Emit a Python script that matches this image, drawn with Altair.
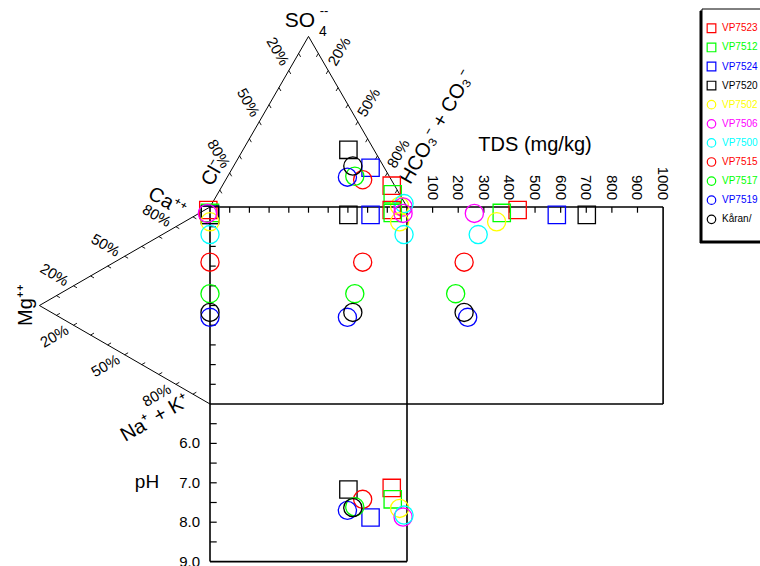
import altair as alt
import numpy as np
import pandas as pd

# ---- samples ---------------------------------------------------------------
samples = ["VP7523", "VP7512", "VP7524", "VP7520", "VP7502", "VP7506",
           "VP7500", "VP7515", "VP7517", "VP7519", "Kåran/"]
symbols = ["square"] * 4 + ["circle"] * 7
colors = ["#ff0000", "#00ff00", "#0000ff", "#000000", "#ffff00", "#ff00ff",
          "#00ffff", "#ff0000", "#00ff00", "#0000ff", "#000000"]

# cations, % of meq
ca = [98, 97, 96, 96, 92.5, 96, 86, 72, 56, 44, 46.5]
mg = [1, 0, 0, 0, 0, 1.5, 0, 0, 0, 0, 0]
na_k = [1, 3, 4, 4, 7.5, 2.5, 14, 28, 44, 56, 53.5]

# anions, % of meq
cl = [1.5, 3.5, 7, 13, 3.5, 2, 0.5, 14.5, 17.5, 21.5, 15.5]
so4 = [12.5, 7.5, 23, 33.5, 0.5, 0, 2, 16, 18, 17.5, 24]
hco3 = [86, 89, 70, 53.5, 96, 98, 97.5, 69.5, 64.5, 61, 60.5]

tds = [432, 370, 585, 702, 350, 263, 278, 223, 190, 237, 223]   # mg/kg
ph = [7.13, 7.42, 7.88, 7.17, 7.65, 7.87, 7.82, 7.42, 7.61, 7.70, 7.63]

tds_ticks = [100, 200, 300, 400, 500, 600, 700, 800, 900, 1000]
ph_labels = [6.0, 7.0, 8.0, 9.0]
pct_labels = [20, 50, 80]

# ---- Durov geometry (diagram units, y grows downward) ----------------------
S = 100.0                    # side of the central square
TRI = S * np.sqrt(3) / 2     # height of the ternary triangles
TDS_W = 130.0                # width of the TDS field (0-1000 mg/kg)
PH_U = 20.0                  # height of one pH unit, pH 5 at the square's base
PX = 1.97                    # pixels per diagram unit
X0, Y0 = 210.0, 207.0        # pixel position of the square's top-left corner
W, H = 760, 566

def ux(px):
    return (px - X0) / PX

def uy(py):
    return (py - Y0) / PX

xs = alt.Scale(domain=[ux(0), ux(W)], nice=False, zero=False)
ys = alt.Scale(domain=[uy(0), uy(H)], nice=False, zero=False, reverse=True)

def xy(x="x", y="y"):
    return dict(x=alt.X(f"{x}:Q", scale=xs, axis=None),
                y=alt.Y(f"{y}:Q", scale=ys, axis=None))

# ---- sample positions in the five fields -----------------------------------
ca_a, mg_a, nk_a = map(np.array, (ca, mg, na_k))
cl_a, so_a, hc_a = map(np.array, (cl, so4, hco3))
ct = ca_a + mg_a + nk_a
at = cl_a + so_a + hc_a
mg_f, nk_f = mg_a / ct, nk_a / ct
so_f, hc_f = so_a / at, hc_a / at

ax = S * (hc_f + so_f / 2)
ay = -TRI * so_f
cx = -TRI * mg_f
cy = S * (nk_f + mg_f / 2)
tx = S + TDS_W * np.array(tds) / 1000
py = S + PH_U * (np.array(ph) - 5)

MARK_SIZE = {"square": 300, "circle": 330}
LEG_SIZE = {"square": 75, "circle": 72}

rows = []
for field, (px_, py_) in enumerate([(ax, ay), (cx, cy), (ax, cy), (tx, cy), (ax, py)]):
    for i, s in enumerate(samples):
        rows.append(dict(sample=s, x=px_[i], y=py_[i],
                         size=MARK_SIZE[symbols[i]], order=field * 100 + i))
points = pd.DataFrame(rows)

# ---- frame -----------------------------------------------------------------
A = np.array([S / 2, -TRI])      # SO4 apex
CL = np.array([0.0, 0.0])        # Cl corner
HC = np.array([S, 0.0])          # HCO3 + CO3 corner
M = np.array([-TRI, S / 2])      # Mg apex
CA = np.array([0.0, 0.0])        # Ca corner
NK = np.array([0.0, S])          # Na + K corner

def seg(p, q, w):
    return dict(x=p[0], y=p[1], x2=q[0], y2=q[1], w=w)

segs = [
    seg((0, 0), (S + TDS_W, 0), 1.6),
    seg((0, S), (S + TDS_W, S), 1.6),
    seg((S + TDS_W, 0), (S + TDS_W, S), 1.6),
    seg((0, 0), (0, S + 4 * PH_U), 1.6),
    seg((S, 0), (S, S + 4 * PH_U), 1.6),
    seg((0, S + 4 * PH_U), (S, S + 4 * PH_U), 1.6),
    seg(CL, A, 1.0), seg(A, HC, 1.0),
    seg(CA, M, 1.0), seg(M, NK, 1.0),
]
TK = 2.9
for k in range(1, 10):
    segs.append(seg((10 * k, 0), (10 * k, TK), 1.2))
    segs.append(seg((0, 10 * k), (TK, 10 * k), 1.2))
for t in tds_ticks[:-1]:
    segs.append(seg((S + TDS_W * t / 1000, 0), (S + TDS_W * t / 1000, TK), 1.2))
for k in range(1, 8):
    segs.append(seg((0, S + PH_U * k / 2), (3.4, S + PH_U * k / 2), 1.2))

# ternary edges: start, end, inward tick direction, outward label direction, angle
c30, s30 = np.sqrt(3) / 2, 0.5
edges = [
    (A, CL, np.array([s30, c30]), np.array([-s30, -c30]), 60),
    (A, HC, np.array([-s30, c30]), np.array([s30, -c30]), 300),
    (M, CA, np.array([c30, s30]), np.array([-c30, -s30]), 30),
    (M, NK, np.array([c30, -s30]), np.array([-c30, s30]), 330),
]
pct_rows = []
for p0, p1, inward, outward, ang in edges:
    for k in range(1, 10):
        p = p0 + (p1 - p0) * k / 10
        segs.append(seg(p, p + inward * 2.0, 0.9))
    for v in pct_labels:
        p = p0 + (p1 - p0) * v / 100 + outward * 11.2
        pct_rows.append(dict(x=p[0], y=p[1], text=f"{v}%", angle=ang))
segs = pd.DataFrame(segs)
pct = pd.DataFrame(pct_rows)

frame = alt.Chart(segs).mark_rule(color="black").encode(
    **xy(), x2="x2:Q", y2="y2:Q",
    strokeWidth=alt.StrokeWidth("w:Q", scale=None),
)

FONT = "Liberation Sans"

pct_text = alt.Chart(pct).mark_text(font=FONT, fontSize=15, align="center",
                                    baseline="middle", color="black").encode(
    **xy(), text="text:N", angle=alt.Angle("angle:Q", scale=None))

tds_lab = pd.DataFrame(dict(x=[S + TDS_W * t / 1000 for t in tds_ticks],
                            y=[uy(200)] * len(tds_ticks),
                            text=[str(t) for t in tds_ticks]))
tds_text = alt.Chart(tds_lab).mark_text(font=FONT, fontSize=15, angle=90,
                                        align="right", baseline="middle",
                                        color="black").encode(**xy(), text="text:N")

ph_lab = pd.DataFrame(dict(x=[ux(200)] * len(ph_labels),
                           y=[S + PH_U * (p - 5) for p in ph_labels],
                           text=[f"{p:.1f}" for p in ph_labels]))
ph_text = alt.Chart(ph_lab).mark_text(font=FONT, fontSize=15, align="right",
                                      baseline="middle",
                                      color="black").encode(**xy(), text="text:N")

# axis and end-member titles
titles = pd.DataFrame([
    dict(text="SO", x=ux(300), y=uy(21), angle=0, fs=21),
    dict(text="4", x=ux(323), y=uy(32), angle=0, fs=14),
    dict(text="--", x=ux(324), y=uy(11), angle=0, fs=13),
    dict(text="Cl⁻", x=ux(213), y=uy(173), angle=300, fs=20),
    dict(text="HCO₃⁻ + CO₃⁻", x=ux(437), y=uy(127), angle=300, fs=20),
    dict(text="Ca⁺⁺", x=ux(167), y=uy(202), angle=30, fs=20),
    dict(text="Mg⁺⁺", x=ux(26), y=uy(305), angle=270, fs=20),
    dict(text="Na⁺ + K⁺", x=ux(155), y=uy(418), angle=330, fs=20),
    dict(text="pH", x=ux(147), y=uy(482), angle=0, fs=19),
    dict(text="TDS (mg/kg)", x=ux(535), y=uy(145), angle=0, fs=20),
])
title_text = alt.Chart(titles).mark_text(font=FONT, align="center",
                                         baseline="middle", color="black").encode(
    **xy(), text="text:N",
    angle=alt.Angle("angle:Q", scale=None),
    size=alt.Size("fs:Q", scale=None))

color_scale = alt.Scale(domain=samples, range=colors)
shape_scale = alt.Scale(domain=samples, range=symbols)

marks = alt.Chart(points).mark_point(filled=False, strokeWidth=1.3, opacity=1).encode(
    **xy(),
    color=alt.Color("sample:N", scale=color_scale, legend=None),
    shape=alt.Shape("sample:N", scale=shape_scale, legend=None),
    size=alt.Size("size:Q", scale=None),
    order=alt.Order("order:Q"),
)

# ---- legend box --------------------------------------------------------------
box = pd.DataFrame([
    dict(x=ux(700), x2=ux(775), y=uy(11), y2=uy(243), fill="black"),
    dict(x=ux(702), x2=ux(775), y=uy(9), y2=uy(241), fill="white"),
])
legend_box = alt.Chart(box).mark_rect(stroke="black", strokeWidth=1).encode(
    **xy(), x2="x2:Q", y2="y2:Q",
    fill=alt.Fill("fill:N", scale=None),
)
leg = pd.DataFrame(dict(
    sample=samples,
    size=[LEG_SIZE[s] for s in symbols],
    x=[ux(711.5)] * len(samples),
    tx=[ux(722)] * len(samples),
    y=[uy(28.3 + 19.1 * i) for i in range(len(samples))],
))
legend_marks = alt.Chart(leg).mark_point(filled=False, strokeWidth=1.2, opacity=1).encode(
    **xy(),
    color=alt.Color("sample:N", scale=color_scale, legend=None),
    shape=alt.Shape("sample:N", scale=shape_scale, legend=None),
    size=alt.Size("size:Q", scale=None),
)
legend_text = alt.Chart(leg).mark_text(font=FONT, fontSize=10, align="left",
                                       baseline="middle", clip=True).encode(
    **xy("tx", "y"), text="sample:N",
    color=alt.Color("sample:N", scale=color_scale, legend=None),
)

chart = alt.layer(
    frame, pct_text, tds_text, ph_text, title_text, marks,
    legend_box, legend_marks, legend_text,
).properties(
    width=W, height=H, padding=0, autosize="none", background="white",
).configure_view(stroke=None)

chart.save("out.html", embed_options={"renderer": "svg", "actions": False})
